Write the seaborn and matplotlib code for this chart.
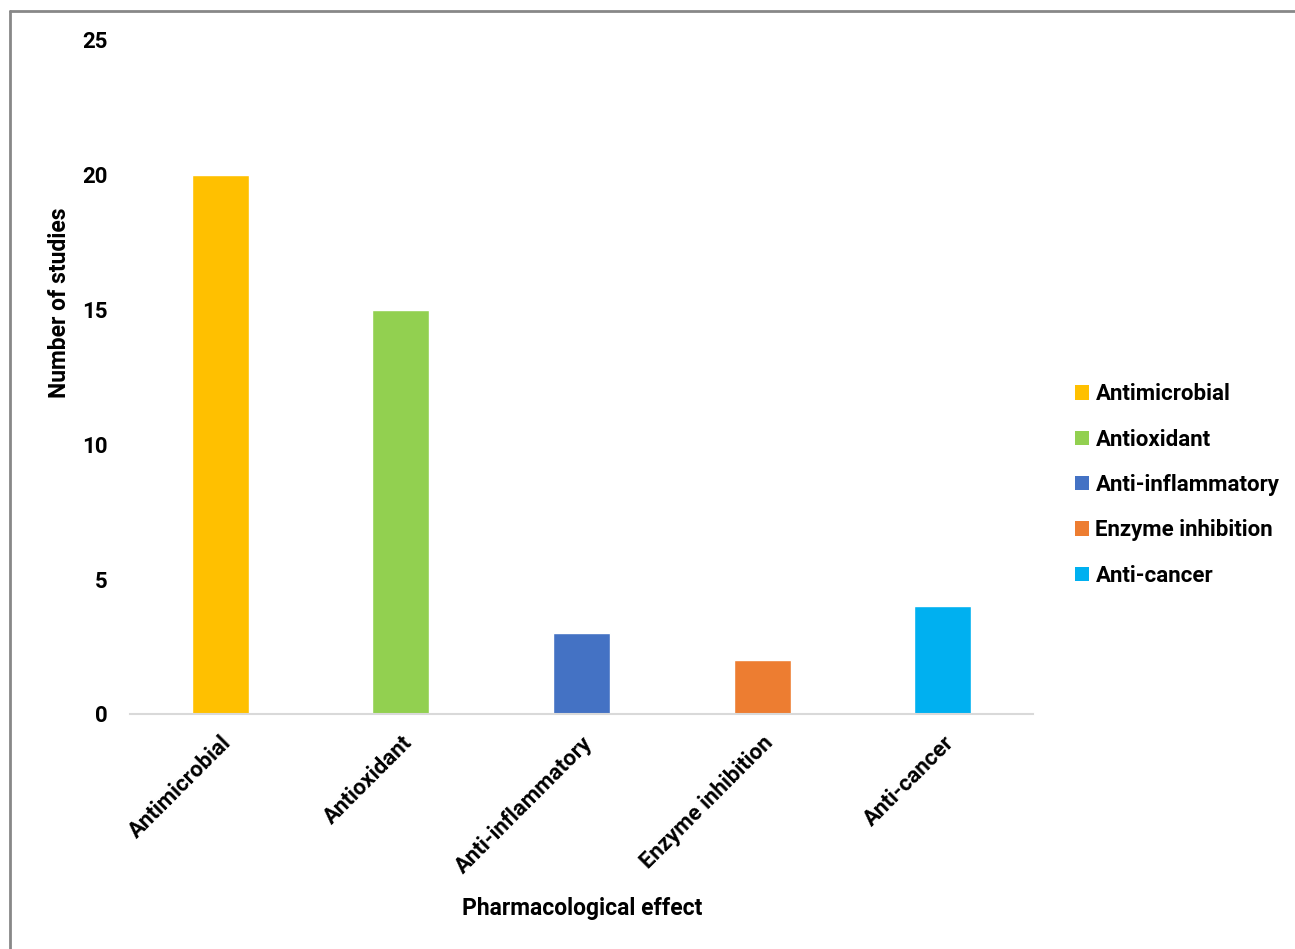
import matplotlib
matplotlib.use("Agg")
import matplotlib.pyplot as plt
from matplotlib.lines import Line2D
from matplotlib.patches import Patch
import seaborn as sns
import pandas as pd

effects = ["Antimicrobial", "Antioxidant", "Anti-inflammatory", "Enzyme inhibition", "Anti-cancer"]
studies = [20, 15, 3, 2, 4]
colors = ["#FFC000", "#92D050", "#4472C4", "#ED7D31", "#00B0F0"]
yticks = [0, 5, 10, 15, 20, 25]

sns.set_theme(style="white")
plt.rcParams["font.family"] = ["Roboto", "DejaVu Sans"]
plt.rcParams["font.weight"] = "bold"
plt.rcParams["text.color"] = "black"
plt.rcParams["axes.labelcolor"] = "black"
plt.rcParams["xtick.color"] = "black"
plt.rcParams["ytick.color"] = "black"

df = pd.DataFrame({"effect": effects, "studies": studies})

W, H = 1295, 949
fig = plt.figure(figsize=(W / 100, H / 100), dpi=100)
ax = fig.add_axes([130 / W, 1 - 714 / H, (1033 - 130) / W, (714 - 40) / H])

sns.barplot(data=df, x="effect", y="studies", hue="effect", palette=colors,
            width=0.316, saturation=1, legend=False, ax=ax)

FS = 16
ax.set_ylim(0, 25)
ax.set_yticks(yticks)
ax.set_yticklabels([str(v) for v in yticks], fontsize=FS, fontweight="bold")
ax.set_xlim(-0.5, len(effects) - 0.5)
ax.set_xticks(range(len(effects)))
ax.set_xticklabels(effects, rotation=45, ha="right", rotation_mode="anchor",
                   fontsize=FS, fontweight="bold")
ax.tick_params(axis="y", length=0, pad=16)
ax.tick_params(axis="x", length=0, pad=13)
for s in ["top", "right", "left"]:
    ax.spines[s].set_visible(False)
ax.spines["bottom"].set_color("#D9D9D9")
ax.spines["bottom"].set_linewidth(1.5)

ax.set_xlabel("Pharmacological effect", fontsize=FS + 0.5, fontweight="bold", labelpad=0)
ax.xaxis.set_label_coords((582 - 130) / (1033 - 130), -(897 - 714) / (714 - 40))
ax.set_ylabel("Number of studies", fontsize=FS + 0.5, fontweight="bold")
ax.yaxis.set_label_coords(-(130 - 71) / (1033 - 130), (714 - 303) / (714 - 40))

handles = [Patch(facecolor=c, edgecolor="none") for c in colors]
fig.legend(handles, effects, loc="center left", bbox_to_anchor=(1055 / W, 1 - 485 / H),
           frameon=False, prop={"weight": "bold", "size": FS},
           handlelength=0.62, handleheight=0.62, handletextpad=0.3, labelspacing=1.05)

# outer frame of the chart area
fig.add_artist(Line2D([10 / W, 10 / W], [0, 1 - 11 / H], transform=fig.transFigure,
                      color="#888888", linewidth=2))
fig.add_artist(Line2D([10 / W, 1], [1 - 11 / H, 1 - 11 / H], transform=fig.transFigure,
                      color="#888888", linewidth=2))

fig.savefig("out.png", dpi=100, facecolor="white")
